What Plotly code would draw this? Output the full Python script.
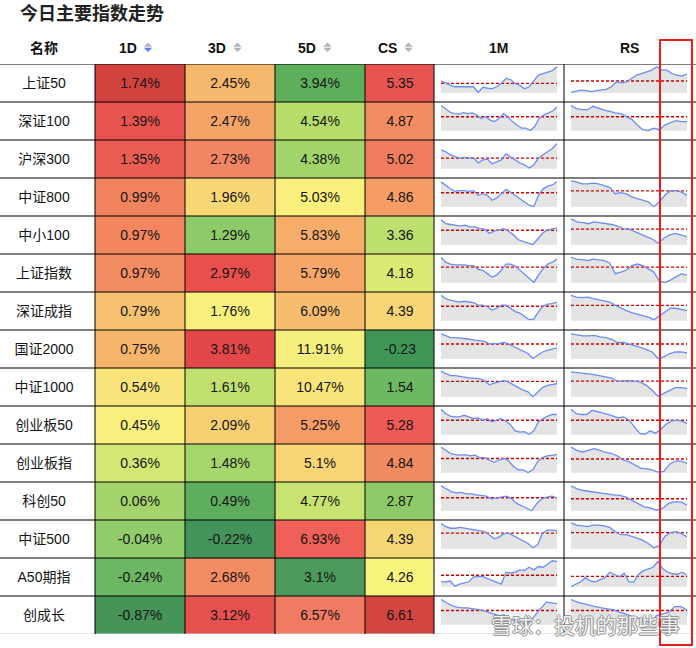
import plotly.graph_objects as go

# ---------------- data ----------------
names = ["上证50", "深证100", "沪深300", "中证800", "中小100", "上证指数", "深证成指", "国证2000",
         "中证1000", "创业板50", "创业板指", "科创50", "中证500", "A50期指", "创成长"]
d1 = [1.74, 1.39, 1.35, 0.99, 0.97, 0.97, 0.79, 0.75, 0.54, 0.45, 0.36, 0.06, -0.04, -0.24, -0.87]
d3 = [2.45, 2.47, 2.73, 1.96, 1.29, 2.97, 1.76, 3.81, 1.61, 2.09, 1.48, 0.49, -0.22, 2.68, 3.12]
d5 = [3.94, 4.54, 4.38, 5.03, 5.83, 5.79, 6.09, 11.91, 10.47, 5.25, 5.1, 4.77, 6.93, 3.1, 6.57]
cs = [5.35, 4.87, 5.02, 4.86, 3.36, 4.18, 4.39, -0.23, 1.54, 5.28, 4.84, 2.87, 4.39, 4.26, 6.61]
headers = ["名称", "1D", "3D", "5D", "CS", "1M", "RS"]

# 1M sparkline (normalised 0-100 within its cell) and its reference level
m1 = [
    [45, 36, 29, 23, 23, 23, 22, 23, 1, 21, 18, 15, 23, 36, 55, 51, 36, 29, 15, 23, 46, 68, 74, 81, 85, 100],
    [97, 85, 72, 66, 64, 70, 66, 69, 60, 47, 54, 41, 35, 47, 66, 54, 35, 22, 10, 10, 1, 16, 47, 60, 69, 76, 91],
    [72, 66, 53, 47, 41, 44, 41, 43, 22, 34, 37, 19, 28, 34, 57, 47, 34, 22, 15, 3, 15, 41, 53, 66, 78, 97],
    [96, 81, 69, 59, 62, 62, 59, 62, 44, 50, 44, 25, 34, 50, 66, 56, 44, 31, 19, 6, 0, 44, 69, 79, 84, 96],
    [96, 81, 78, 75, 72, 75, 69, 69, 62, 60, 44, 52, 56, 62, 52, 38, 19, 12, 6, 0, 22, 44, 56, 60, 65],
    [98, 79, 72, 69, 69, 69, 66, 66, 51, 48, 35, 22, 29, 48, 72, 72, 64, 48, 35, 16, 1, 29, 54, 72, 79, 91],
    [98, 85, 79, 75, 72, 75, 72, 70, 60, 60, 54, 41, 48, 60, 60, 48, 35, 29, 16, 4, 6, 35, 56, 64, 66, 72],
    [96, 88, 81, 81, 79, 79, 75, 72, 69, 67, 57, 57, 59, 63, 57, 47, 38, 30, 20, 1, 14, 26, 32, 38, 42],
    [98, 88, 81, 81, 78, 75, 72, 72, 69, 62, 46, 52, 56, 62, 56, 44, 35, 25, 19, 0, 19, 35, 44, 48, 50],
    [98, 81, 72, 69, 69, 75, 69, 62, 65, 56, 62, 50, 56, 62, 52, 38, 15, 10, 12, 2, 15, 50, 62, 72, 78, 78],
    [99, 86, 74, 70, 68, 70, 65, 68, 58, 58, 49, 40, 49, 55, 45, 24, 11, 11, 1, 11, 43, 58, 65, 68, 70],
    [96, 84, 74, 69, 71, 65, 65, 61, 59, 56, 46, 49, 52, 56, 46, 28, 19, 11, 0, 28, 46, 52, 56, 49],
    [98, 85, 79, 79, 82, 79, 75, 72, 70, 66, 54, 38, 45, 58, 60, 50, 41, 32, 20, 4, 16, 60, 72, 72, 70],
    [19, 19, 22, 2, 10, 15, 19, 38, 40, 40, 31, 25, 19, 10, 56, 52, 56, 65, 62, 75, 65, 78, 75, 88, 100, 98],
    [97, 87, 74, 68, 65, 65, 61, 57, 55, 48, 42, 35, 38, 22, 16, 9, 3, 16, 42, 65, 87, 83, 81],
]
m1_ref = [36, 54, 41, 54, 56, 60, 56, 57, 59, 56, 55, 50, 60, 44, 55]

# RS sparkline (沪深300 has none)
rs = [
    [1, 6, 10, 8, 4, 8, 10, 13, 23, 42, 38, 42, 55, 68, 74, 81, 87, 100, 87, 87, 74, 68, 64, 72],
    [97, 85, 81, 81, 94, 85, 79, 75, 69, 66, 54, 44, 22, 4, 1, 10, 4, 22, 31, 39, 35, 35],
    None,
    [100, 96, 88, 88, 91, 88, 81, 75, 50, 54, 50, 38, 31, 25, 19, 0, 19, 44, 62, 62, 56, 44],
    [100, 88, 85, 81, 88, 85, 81, 78, 72, 62, 60, 50, 38, 31, 22, 6, 25, 38, 44, 38, 31],
    [98, 91, 89, 85, 91, 88, 85, 76, 35, 41, 48, 66, 72, 66, 54, 41, 6, 1, 10, 22, 35, 29],
    [98, 91, 89, 91, 85, 81, 76, 72, 60, 48, 39, 31, 26, 19, 14, 4, 19, 35, 48, 48, 44, 39],
    [96, 91, 88, 88, 90, 84, 81, 75, 63, 63, 57, 51, 44, 35, 26, 1, 7, 20, 26, 26, 22],
    [96, 94, 90, 88, 85, 81, 78, 72, 60, 62, 62, 60, 56, 44, 25, 2, 12, 25, 35, 35, 32],
    [98, 81, 78, 78, 94, 88, 81, 78, 72, 65, 69, 56, 31, 6, 2, 15, 6, 19, 40, 52, 56, 52, 44],
    [99, 86, 80, 86, 93, 86, 78, 74, 65, 49, 43, 30, 18, 15, 11, 2, 5, 33, 45, 45, 36],
    [96, 84, 78, 74, 71, 69, 65, 61, 59, 52, 40, 28, 15, 11, 2, 9, 28, 34, 34, 21],
    [100, 91, 88, 85, 91, 91, 88, 82, 66, 54, 54, 48, 41, 32, 20, 4, 12, 48, 62, 66, 58, 45],
    [0, 10, 19, 35, 22, 19, 28, 35, 56, 48, 38, 52, 19, 19, 48, 62, 69, 75, 98, 69, 56, 50, 48, 56, 44],
    [97, 87, 81, 74, 70, 65, 61, 57, 48, 42, 31, 26, 18, 9, 35, 42, 48, 70, 70, 57],
]
rs_ref = [45, 54, None, 61, 60, 60, 59, 57, 60, 56, 53, 46, 62, 40, 55]

# ---------------- styles ----------------
c1 = ["#d24340", "#e8524f", "#ea5d52", "#f2835f", "#f3855f", "#f48c62", "#f6c26f", "#f5b66c",
      "#f8e479", "#f8ef7c", "#d3e774", "#a4d46b", "#90cc69", "#6bb763", "#469458"]
c3 = ["#f6b86d", "#f5a468", "#f28563", "#f8d777", "#8dcb69", "#e84f4d", "#f8f07d", "#e2474a",
      "#c1e06f", "#f7cf73", "#a6d56b", "#5fae5d", "#43935a", "#f38b63", "#e5514f"]
c5 = ["#5eaf5c", "#b6dc6a", "#a3d46a", "#f8ef7c", "#f6ad6a", "#f6a668", "#f6bd6e", "#f4ef7c",
      "#f7e57a", "#f59c66", "#f7d574", "#c8e371", "#ef6158", "#4b9a5b", "#f07a62"]
ccs = ["#e65552", "#f38d61", "#f07c5f", "#f59d65", "#bcdf6e", "#dcea74", "#f6d574", "#3f9656",
       "#6db962", "#ee5b55", "#f28b62", "#8ec968", "#f4d774", "#f9f47e", "#d24541"]

W, H = 696, 648
TOP, ROWH, NROW = 64, 38, 15
col_edges = [-7, 95, 185, 275, 365, 434]          # table columns holding text
vlines = [95, 185, 275, 365, 434, 564]
spark_x = {"1M": (441, 557), "RS": (571, 687)}
FONT = "Liberation Sans, Arial, Noto Sans CJK SC, sans-serif"
CJK = "Noto Sans CJK SC, sans-serif"


def px_x(p):
    return p / W


def px_y(p):
    return 1 - p / H


def fmt(v):
    return f"{v:g}"


fig = go.Figure()

# ---- coloured cells as a heatmap with a discrete colour list ----
palette = []
z, txt = [], []
for i in range(NROW):
    zr, tr = [], []
    row_cols = ["#ffffff", c1[i], c3[i], c5[i], ccs[i]]
    row_txt = [names[i], fmt(d1[i]) + "%", fmt(d3[i]) + "%", fmt(d5[i]) + "%", fmt(cs[i])]
    for j in range(5):
        zr.append(len(palette))
        palette.append(row_cols[j])
        tr.append(row_txt[j])
    z.append(zr)
    txt.append(tr)
N = len(palette)
colorscale = [[k / (N - 1), c] for k, c in enumerate(palette)]

fig.add_trace(go.Heatmap(
    z=z, x=col_edges, y=list(range(NROW + 1)), text=txt, texttemplate="%{text}",
    textfont=dict(family=FONT, size=14, color="#151515"),
    colorscale=colorscale, zmin=0, zmax=N - 1, showscale=False, hoverinfo="skip",
    xaxis="x", yaxis="y"))

layout_axes = {}
layout_axes["xaxis"] = dict(domain=[0, 1], range=[0, W], visible=False, fixedrange=True)
layout_axes["yaxis"] = dict(domain=[px_y(TOP + NROW * ROWH), px_y(TOP)], range=[NROW, 0],
                            visible=False, fixedrange=True)

shapes = []
for k in range(NROW):
    shapes.append(dict(type="line", xref="x", yref="y", x0=0, x1=W, y0=k, y1=k,
                       line=dict(color="#000000", width=1)))
shapes.append(dict(type="line", xref="x", yref="y", x0=0, x1=W, y0=NROW, y1=NROW,
                   line=dict(color="#c8d2e4", width=1)))
for xv in vlines:
    shapes.append(dict(type="line", xref="x", yref="y", x0=xv, x1=xv, y0=0, y1=NROW,
                       line=dict(color="#000000", width=1)))

# ---- sparklines ----
ax = 2
for i in range(NROW):
    top = TOP + i * ROWH
    for key, series, refs in (("1M", m1, m1_ref), ("RS", rs, rs_ref)):
        vals = series[i]
        if vals is None:
            continue
        xs = list(range(len(vals)))
        xa, ya = f"x{ax}", f"y{ax}"
        fig.add_trace(go.Scatter(x=xs, y=vals, mode="lines", line=dict(width=0),
                                 fill="tozeroy", fillcolor="#e4e4e4", hoverinfo="skip",
                                 xaxis=xa, yaxis=ya))
        fig.add_trace(go.Scatter(x=[0, len(vals) - 1], y=[refs[i], refs[i]], mode="lines",
                                 line=dict(color="#d40000", width=1.4, dash="3px,2px"),
                                 hoverinfo="skip", xaxis=xa, yaxis=ya))
        fig.add_trace(go.Scatter(x=xs, y=vals, mode="lines",
                                 line=dict(color="#6b8df4", width=1.3), hoverinfo="skip",
                                 xaxis=xa, yaxis=ya))
        x0, x1 = spark_x[key]
        layout_axes[f"xaxis{ax}"] = dict(domain=[px_x(x0), px_x(x1)], range=[0, len(vals) - 1],
                                         visible=False, anchor=ya, fixedrange=True)
        layout_axes[f"yaxis{ax}"] = dict(domain=[px_y(top + 29.5), px_y(top + 2)], range=[-3, 103],
                                         visible=False, anchor=xa, fixedrange=True)
        ax += 1

# ---- header & title ----
ann = []
ann.append(dict(text="<b>今日主要指数走势</b>", x=px_x(18), y=px_y(12), xref="paper", yref="paper",
                xanchor="left", yanchor="middle", showarrow=False,
                font=dict(family=CJK, size=18, color="#222222")))
head_x = [44, 127.5, 217, 306.5, 387.5, 498.5, 629.5]
arrow_x = [None, 148, 237.5, 327.5, 408.5, None, None]


def tri_path(cx, ytip, ybase, half):
    return (f"M {px_x(cx - half)},{px_y(ybase)} L {px_x(cx + half)},{px_y(ybase)} "
            f"L {px_x(cx)},{px_y(ytip)} Z")


for h, hx, axx in zip(headers, head_x, arrow_x):
    ann.append(dict(text=f"<b>{h}</b>", x=px_x(hx), y=px_y(48), xref="paper", yref="paper",
                    xanchor="center", yanchor="middle", showarrow=False,
                    font=dict(family=FONT, size=14, color="#111111")))
    if axx is not None:
        down_col = "#5b80f0" if h == "1D" else "#b4b4bc"
        shapes.append(dict(type="path", xref="paper", yref="paper", path=tri_path(axx, 42.5, 46.8, 4.2),
                           fillcolor="#b4b4bc", line=dict(width=0)))
        shapes.append(dict(type="path", xref="paper", yref="paper", path=tri_path(axx, 52, 47.8, 4.2),
                           fillcolor=down_col, line=dict(width=0)))

# bottom-right watermark text
ann.append(dict(text="雪球：投机的那些事", x=px_x(585), y=px_y(624), xref="paper", yref="paper",
                xanchor="center", yanchor="middle", showarrow=False,
                font=dict(family=CJK, size=21, color="rgba(255,255,255,0.9)",
                          shadow="1px 0 0 #8a8a8a, -1px 0 0 #8a8a8a, 0 1px 0 #8a8a8a, 0 -1px 0 #8a8a8a")))

# red highlight box
shapes.append(dict(type="rect", xref="paper", yref="paper", x0=px_x(660), x1=px_x(692),
                   y0=px_y(645), y1=px_y(40), line=dict(color="#e8201c", width=2),
                   fillcolor="rgba(0,0,0,0)"))

fig.update_layout(width=W, height=H, margin=dict(l=0, r=0, t=0, b=0),
                  paper_bgcolor="white", plot_bgcolor="rgba(0,0,0,0)", showlegend=False,
                  shapes=shapes, annotations=ann, **layout_axes)

fig.write_html("out.html", config={"displayModeBar": False},
               post_script="document.body.style.margin='0';document.body.style.overflow='hidden';")
